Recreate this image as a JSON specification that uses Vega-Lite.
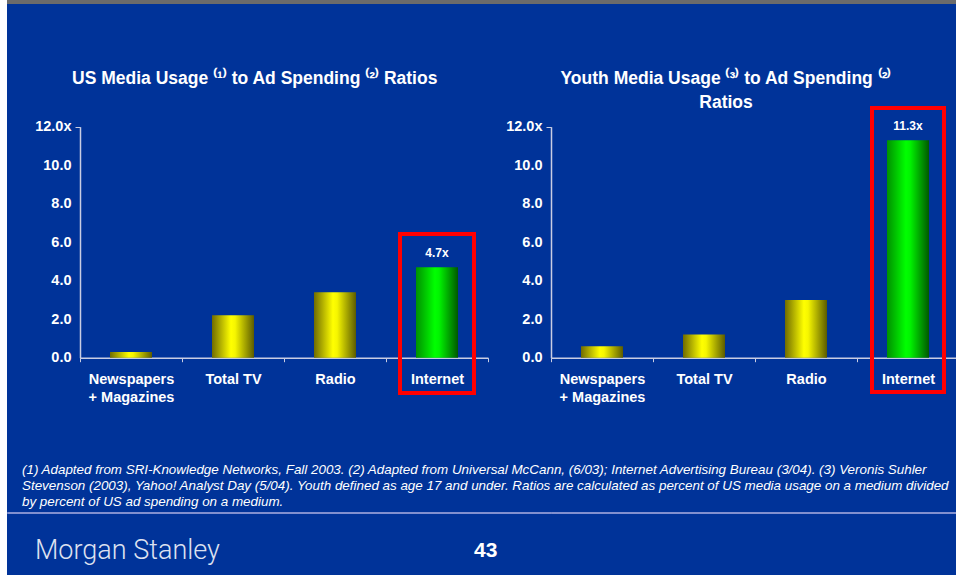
{
  "$schema": "https://vega.github.io/schema/vega-lite/v6.json",
  "autosize": {"type": "none"},
  "padding": {"left": 0, "top": 0, "right": 956, "bottom": 575},
  "background": "#003399",
  "config": {
    "view": {"stroke": null},
    "font": "Liberation Sans",
    "axis": {
      "grid": false,
      "domainColor": "#c9cde3",
      "domainWidth": 1.5,
      "tickColor": "#c9cde3",
      "labelColor": "#ffffff",
      "labelFont": "Liberation Sans",
      "labelFontWeight": "bold",
      "labelFontSize": 14.5,
      "labelOverlap": false
    }
  },
  "datasets": {
    "us": [
      {"media": "Newspapers + Magazines", "ratio": 0.3, "label": "0.3x"},
      {"media": "Total TV", "ratio": 2.2, "label": "2.2x"},
      {"media": "Radio", "ratio": 3.4, "label": "3.4x"},
      {"media": "Internet", "ratio": 4.7, "label": "4.7x"}
    ],
    "youth": [
      {"media": "Newspapers + Magazines", "ratio": 0.6, "label": "0.6x"},
      {"media": "Total TV", "ratio": 1.2, "label": "1.2x"},
      {"media": "Radio", "ratio": 3.0, "label": "3.0x"},
      {"media": "Internet", "ratio": 11.3, "label": "11.3x"}
    ]
  },
  "columns": 3,
  "spacing": {"row": 0, "column": 0},
  "bounds": "flush",
  "align": "each",
  "concat": [
    {
      "width": 7,
      "height": 512,
      "data": {"values": []},
      "mark": "point",
      "encoding": {},
      "view": {"fill": "#ffffff", "stroke": null}
    },
    {
      "width": 544,
      "height": 357.7,
      "data": {"name": "us"},
      "view": {"stroke": "#6b6b6b", "strokeWidth": 8, "strokeDash": [544, 3000]},
      "title": {
        "text": "US Media Usage ⁽¹⁾ to Ad Spending ⁽²⁾ Ratios",
        "orient": "top",
        "anchor": "start",
        "frame": "group",
        "dx": 65,
        "offset": -87,
        "font": "Liberation Sans",
        "fontSize": 17.5,
        "fontWeight": "bold",
        "color": "#ffffff"
      },
      "encoding": {
        "x": {
          "field": "media",
          "type": "nominal",
          "sort": null,
          "scale": {"domain": ["Newspapers + Magazines", "Total TV", "Radio", "Internet"], "range": [73, 481], "paddingInner": 0, "paddingOuter": 0},
          "axis": {
            "title": null,
            "labelAngle": 0,
            "tickBand": "extent",
            "tickSize": 4,
            "labelPadding": 11,
            "labelLineHeight": 18,
            "labelExpr": "datum.label == 'Newspapers + Magazines' ? ['Newspapers', '+ Magazines'] : datum.label"
          }
        },
        "y": {
          "field": "ratio",
          "type": "quantitative",
          "scale": {"domain": [0, 12], "nice": false, "range": [357.7, 126.7]},
          "axis": {
            "title": null,
            "offset": -73,
            "values": [0, 2, 4, 6, 8, 10, 12],
            "labelExpr": "datum.value == 12 ? '12.0x' : format(datum.value, '.1f')",
            "labelOverlap": false,
            "tickSize": 5,
            "tickColor": {"condition": {"test": "datum.value == 12", "value": "#c9cde3"}, "value": "transparent"},
            "labelPadding": 4
          }
        }
      },
      "layer": [
        {
          "transform": [{"filter": "datum.media != 'Internet'"}],
          "mark": {
            "type": "bar",
            "size": 42,
            "color": {"gradient": "linear", "x1": 0, "y1": 0, "x2": 1, "y2": 0,
              "stops": [{"offset": 0, "color": "#706c00"}, {"offset": 0.45, "color": "#ffff00"}, {"offset": 0.55, "color": "#f6f600"}, {"offset": 1, "color": "#5c5c00"}]}
          }
        },
        {
          "transform": [{"filter": "datum.media == 'Internet'"}],
          "mark": {
            "type": "bar",
            "size": 42,
            "color": {"gradient": "linear", "x1": 0, "y1": 0, "x2": 1, "y2": 0,
              "stops": [{"offset": 0, "color": "#009000"}, {"offset": 0.45, "color": "#00ff00"}, {"offset": 0.55, "color": "#00f400"}, {"offset": 1, "color": "#005800"}]}
          }
        },
        {
          "transform": [{"filter": "datum.media == 'Internet'"}],
          "mark": {"type": "text", "dy": -14, "fontSize": 12, "fontWeight": "bold", "color": "#ffffff", "baseline": "middle"},
          "encoding": {
            "text": {"field": "label"}
          }
        },
        {
          "transform": [{"filter": "datum.media == 'Internet'"}],
          "mark": {"type": "bar", "filled": false, "stroke": "#ff0000", "strokeWidth": 4, "size": 74},
          "encoding": {
            "y": {"datum": 6.43},
            "y2": {"datum": -1.83}
          }
        }
      ]
    },
    {
      "width": 408,
      "height": 357.7,
      "data": {"name": "youth"},
      "view": {"stroke": "#6b6b6b", "strokeWidth": 8, "strokeDash": [408, 3000]},
      "title": {
        "text": ["Youth Media Usage ⁽³⁾ to Ad Spending ⁽²⁾", "Ratios"],
        "orient": "top",
        "anchor": "middle",
        "frame": "group",
        "dx": -29,
        "offset": -111,
        "lineHeight": 24,
        "font": "Liberation Sans",
        "fontSize": 17.5,
        "fontWeight": "bold",
        "color": "#ffffff"
      },
      "encoding": {
        "x": {
          "field": "media",
          "type": "nominal",
          "sort": null,
          "scale": {"domain": ["Newspapers + Magazines", "Total TV", "Radio", "Internet"], "paddingInner": 0, "paddingOuter": 0},
          "axis": {
            "title": null,
            "labelAngle": 0,
            "tickBand": "extent",
            "tickSize": 4,
            "labelPadding": 11,
            "labelLineHeight": 18,
            "labelExpr": "datum.label == 'Newspapers + Magazines' ? ['Newspapers', '+ Magazines'] : datum.label"
          }
        },
        "y": {
          "field": "ratio",
          "type": "quantitative",
          "scale": {"domain": [0, 12], "nice": false, "range": [357.7, 126.7]},
          "axis": {
            "title": null,
            "values": [0, 2, 4, 6, 8, 10, 12],
            "labelExpr": "datum.value == 12 ? '12.0x' : format(datum.value, '.1f')",
            "labelOverlap": false,
            "tickSize": 5,
            "tickColor": {"condition": {"test": "datum.value == 12", "value": "#c9cde3"}, "value": "transparent"},
            "labelPadding": 4
          }
        }
      },
      "layer": [
        {
          "transform": [{"filter": "datum.media != 'Internet'"}],
          "mark": {
            "type": "bar",
            "size": 42,
            "color": {"gradient": "linear", "x1": 0, "y1": 0, "x2": 1, "y2": 0,
              "stops": [{"offset": 0, "color": "#706c00"}, {"offset": 0.45, "color": "#ffff00"}, {"offset": 0.55, "color": "#f6f600"}, {"offset": 1, "color": "#5c5c00"}]}
          }
        },
        {
          "transform": [{"filter": "datum.media == 'Internet'"}],
          "mark": {
            "type": "bar",
            "size": 42,
            "color": {"gradient": "linear", "x1": 0, "y1": 0, "x2": 1, "y2": 0,
              "stops": [{"offset": 0, "color": "#009000"}, {"offset": 0.45, "color": "#00ff00"}, {"offset": 0.55, "color": "#00f400"}, {"offset": 1, "color": "#005800"}]}
          }
        },
        {
          "transform": [{"filter": "datum.media == 'Internet'"}],
          "mark": {"type": "text", "dy": -14, "fontSize": 12, "fontWeight": "bold", "color": "#ffffff", "baseline": "middle"},
          "encoding": {
            "text": {"field": "label"}
          }
        },
        {
          "transform": [{"filter": "datum.media == 'Internet'"}],
          "mark": {"type": "bar", "filled": false, "stroke": "#ff0000", "strokeWidth": 4, "size": 72},
          "encoding": {
            "y": {"datum": 12.97},
            "y2": {"datum": -1.78}
          }
        }
      ]
    },
    {
      "width": 7,
      "height": 63,
      "data": {"values": []},
      "mark": "point",
      "encoding": {},
      "view": {"fill": "#ffffff", "stroke": null},
      "title": {
        "text": [
          "(1) Adapted from SRI-Knowledge Networks, Fall 2003.  (2) Adapted from Universal McCann, (6/03); Internet Advertising Bureau (3/04). (3) Veronis Suhler",
          "Stevenson (2003), Yahoo! Analyst Day (5/04).  Youth defined as age 17 and under.  Ratios are calculated as percent of US media usage on a medium divided",
          "by percent of US ad spending on a medium."
        ],
        "orient": "top",
        "anchor": "start",
        "frame": "group",
        "dx": 22,
        "offset": 4,
        "lineHeight": 16,
        "font": "Liberation Sans",
        "fontSize": 13.4,
        "fontStyle": "italic",
        "fontWeight": "normal",
        "color": "#ffffff",
        "limit": 0
      }
    },
    {
      "width": 544,
      "height": 1,
      "data": {"values": []},
      "mark": "point",
      "encoding": {},
      "view": {"stroke": "#8190cf", "strokeWidth": 1},
      "title": {
        "text": "Morgan Stanley",
        "orient": "bottom",
        "anchor": "start",
        "frame": "group",
        "dx": 28,
        "offset": 25,
        "font": "Roboto",
        "fontSize": 27,
        "fontWeight": 300,
        "color": "#dde1f0",
        "limit": 0
      }
    },
    {
      "width": 408,
      "height": 1,
      "data": {"values": []},
      "mark": "point",
      "encoding": {},
      "view": {"stroke": "#8190cf", "strokeWidth": 1},
      "title": {
        "text": "43",
        "orient": "bottom",
        "anchor": "start",
        "frame": "group",
        "dx": -77,
        "offset": 27,
        "font": "Liberation Sans",
        "fontSize": 21,
        "fontWeight": "bold",
        "color": "#ffffff"
      }
    }
  ]
}
